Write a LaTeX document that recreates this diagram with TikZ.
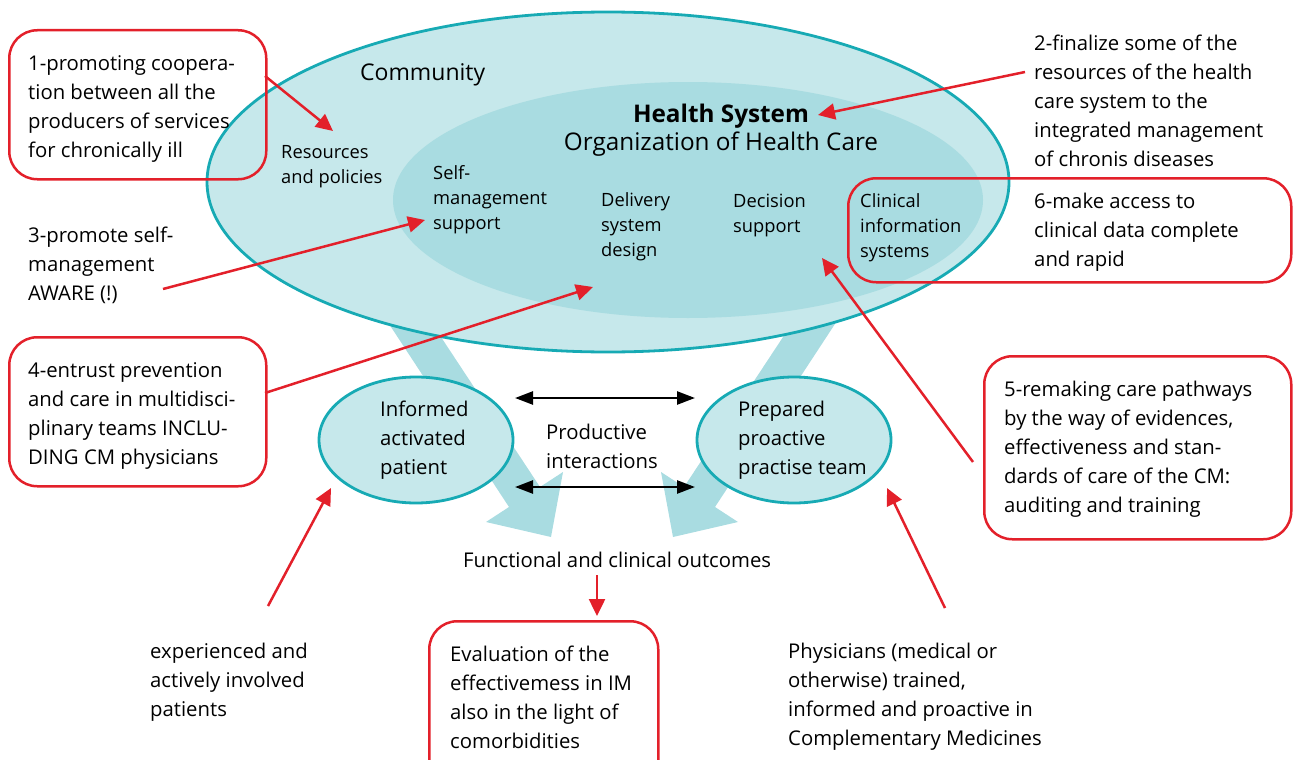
\documentclass[tikz,border=0pt]{standalone}
\usepackage{fontspec}
\setmainfont{Open Sans}
\usetikzlibrary{arrows.meta,shapes.geometric}
\definecolor{tealline}{HTML}{17AAB4}
\definecolor{outerfill}{HTML}{C6E8EB}
\definecolor{innerfill}{HTML}{A9DCE1}
\definecolor{redc}{HTML}{E3202A}
\tikzset{
  txt/.style={font=\fontsize{20.3}{29}\selectfont, align=left, inner sep=0pt, anchor=west},
  smalltxt/.style={font=\fontsize{18.3}{25}\selectfont, align=left, inner sep=0pt, anchor=west},
  redbox/.style={draw=redc, line width=2.5pt, rounded corners=28pt, inner sep=0pt, anchor=north west},
  redarrow/.style={draw=redc, line width=2.5pt, -{Triangle[length=17pt,width=16pt]}},
  blackarrow/.style={draw=black, line width=2.5pt, {Triangle[length=18pt,width=13pt]}-{Triangle[length=18pt,width=13pt]}},
  bubble/.style={ellipse, draw=tealline, line width=2.8pt, fill=outerfill, inner sep=0pt},
  fatarrow/.style={fill=innerfill}
}
\begin{document}
\begin{tikzpicture}[x=1pt,y=-1pt]
\useasboundingbox (0,0) rectangle (1293,760);
% fat arrows (behind)
\fill[fatarrow] (372,298) -- (509,507) -- (486,522) -- (551,537) -- (563,472) -- (540,487) -- (402,278) -- cycle;
\fill[fatarrow] (852,298) -- (715,507) -- (738,522) -- (673,537) -- (661,472) -- (684,487) -- (822,278) -- cycle;
% community ellipse
\node[bubble, minimum width=802pt, minimum height=340pt] (community) at (608,182) {};
\node[ellipse, fill=innerfill, inner sep=0pt, minimum width=590pt, minimum height=236pt] (health) at (688,200) {};
% patient / team
\node[bubble, minimum width=194pt, minimum height=126pt] (patient) at (416,440) {};
\node[bubble, minimum width=194pt, minimum height=126pt] (team) at (794,440) {};
% texts inside
\node[inner sep=0pt, anchor=west, font=\fontsize{23}{28}\selectfont] (commtxt) at (360,75) {Community};
\node[smalltxt] (resources) at (281,167) {Resources\\and policies};
\node[inner sep=0pt, font=\fontsize{24.3}{28}\selectfont\bfseries] (hstitle) at (721,116) {Health System};
\node[inner sep=0pt, font=\fontsize{24.3}{28}\selectfont] (hsorg) at (721,144) {Organization of Health Care};
\node[smalltxt] (selfm) at (433,200) {Self-\\management\\support};
\node[smalltxt] (delivery) at (601,227) {Delivery\\system\\design};
\node[smalltxt] (decision) at (733,215) {Decision\\support};
\node[smalltxt] (clinical) at (860,228) {Clinical\\information\\systems};
\node[txt] (patienttxt) at (380,440) {Informed\\activated\\patient};
\node[txt] (teamtxt) at (738,440) {Prepared\\proactive\\practise team};
\node[txt] (prodtxt) at (546,446) {Productive\\interactions};
\node[txt] (outcomes) at (463,560) {Functional and clinical outcomes};
% black double arrows
\coordinate (ba1l) at (515,398); \coordinate (ba1r) at (695,398);
\coordinate (ba2l) at (515,487); \coordinate (ba2r) at (695,487);
\draw[blackarrow] (ba1l) -- (ba1r);
\draw[blackarrow] (ba2l) -- (ba2r);
% red boxes
\node[redbox, minimum width=257pt, minimum height=149pt] (box1) at (8,29) {};
\node[redbox, minimum width=443pt, minimum height=104pt] (box6) at (847,177) {};
\node[redbox, minimum width=257pt, minimum height=149pt] (box4) at (8,336) {};
\node[redbox, minimum width=307pt, minimum height=183pt] (box5) at (983,355) {};
\node[redbox, minimum width=229pt, minimum height=170pt] (box7) at (428,620) {};
% annotation texts
\node[txt] (t1) at (28,109) {1-promoting coopera-\\tion between all the\\producers of services\\for chronically ill};
\node[txt] (t2) at (1034,101) {2-finalize some of the\\resources of the health\\care system to the\\integrated management\\of chronis diseases};
\node[txt] (t3) at (28,265) {3-promote self-\\management\\AWARE (!)};
\node[txt] (t4) at (28,416) {4-entrust prevention\\and care in multidisci-\\plinary teams INCLU-\\DING CM physicians};
\node[txt] (t5) at (1004,449) {5-remaking care pathways\\by the way of evidences,\\effectiveness and stan-\\dards of care of the CM:\\auditing and training};
\node[txt] (t6) at (1034,232) {6-make access to\\clinical data complete\\and rapid};
\node[txt] (t7) at (450,697) {Evaluation of the\\effectivemess in IM\\also in the light of\\comorbidities};
\node[txt] (t8) at (150,682) {experienced and\\actively involved\\patients};
\node[txt] (t9) at (788,697) {Physicians (medical or\\otherwise) trained,\\informed and proactive in\\Complementary Medicines};
% red arrows
\coordinate (s1) at (265,76);  \coordinate (e1) at (333,131);
\coordinate (s2) at (1025,72); \coordinate (e2) at (818,115);
\coordinate (s3) at (163,289); \coordinate (e3) at (425,220);
\coordinate (s4) at (265,393); \coordinate (e4) at (593,287);
\coordinate (s5) at (973,462); \coordinate (e5) at (822,258);
\coordinate (s6) at (597,575); \coordinate (e6) at (597,616);
\coordinate (s7) at (268,606); \coordinate (e7) at (331,488);
\coordinate (s8) at (945,608); \coordinate (e8) at (887,488);
\draw[redarrow] (s1) -- (e1);
\draw[redarrow] (s2) -- (e2);
\draw[redarrow] (s3) -- (e3);
\draw[redarrow] (s4) -- (e4);
\draw[redarrow] (s5) -- (e5);
\draw[redarrow] (s6) -- (e6);
\draw[redarrow] (s7) -- (e7);
\draw[redarrow] (s8) -- (e8);
\end{tikzpicture}
\end{document}
